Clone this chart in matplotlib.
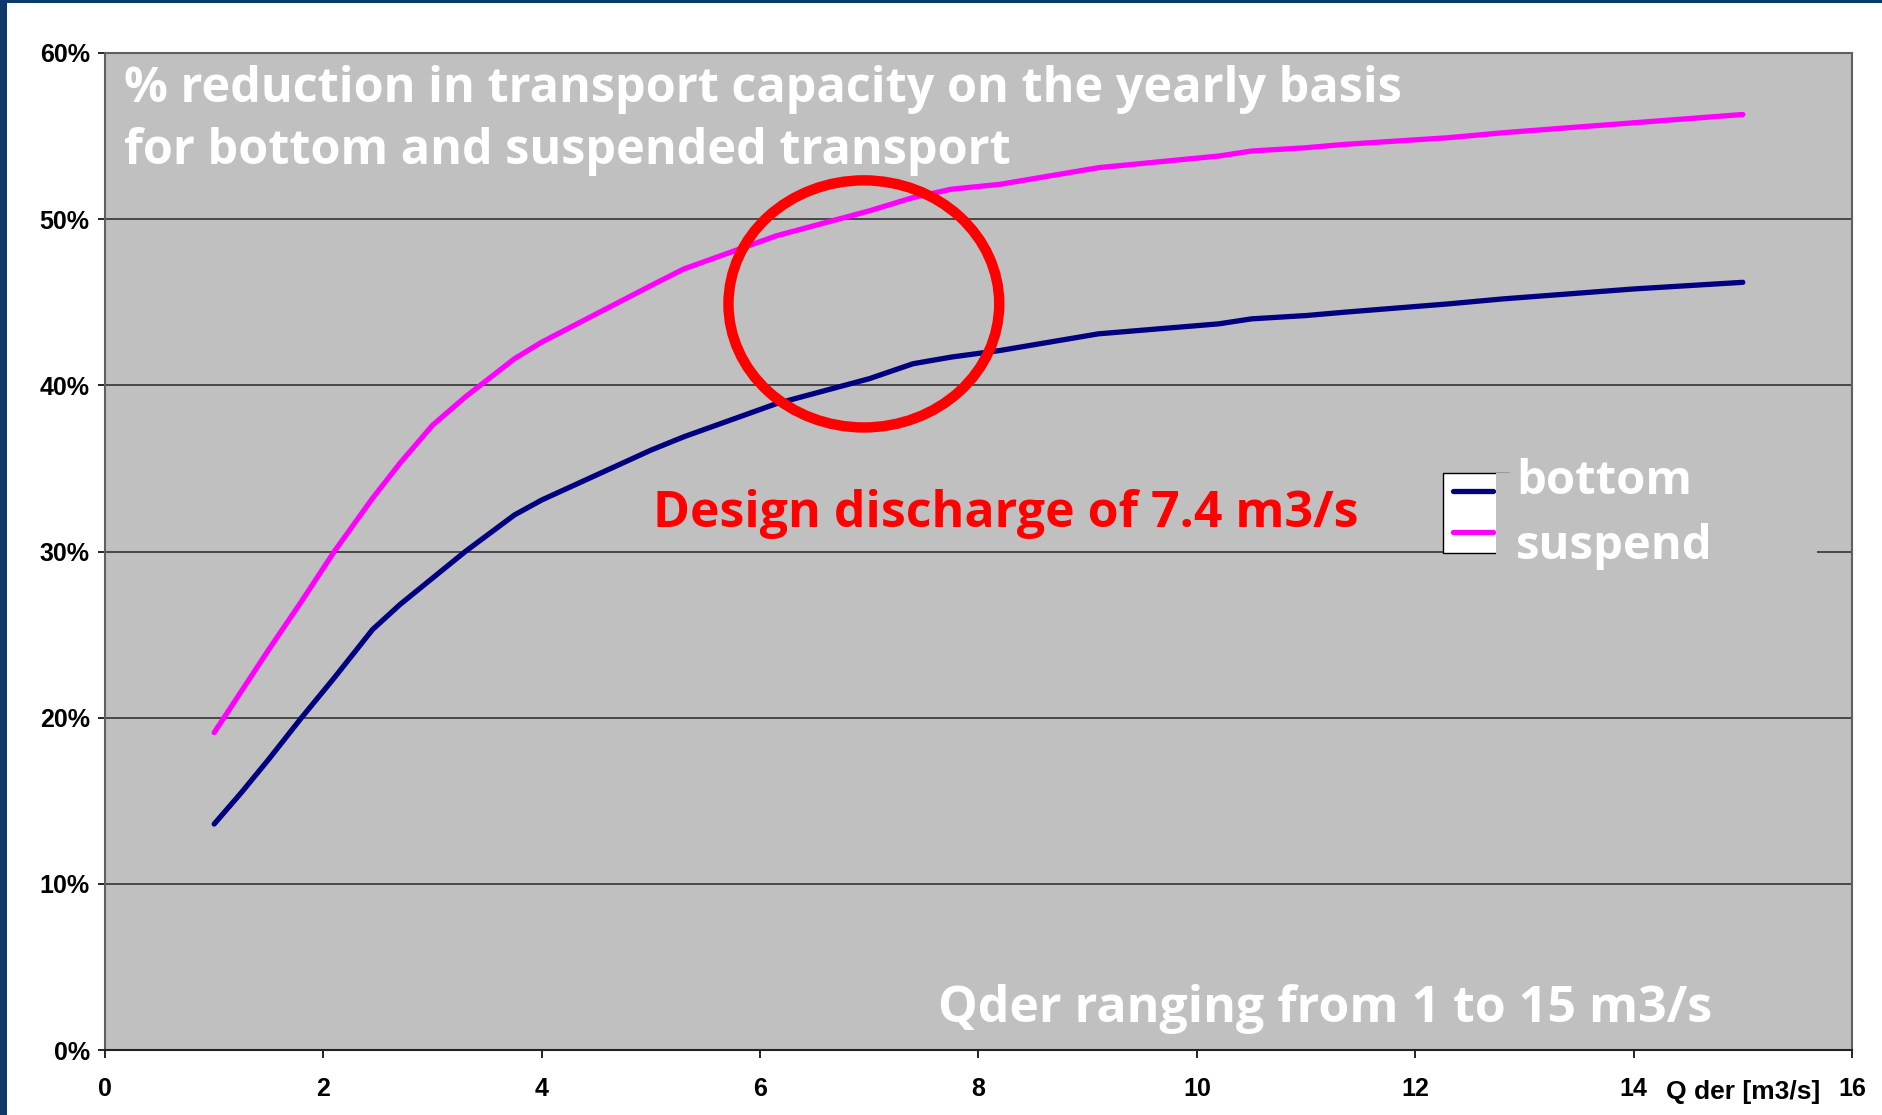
import matplotlib
matplotlib.use("Agg")
import matplotlib.pyplot as plt
from matplotlib import font_manager
from matplotlib.patches import Ellipse, Rectangle

# values (Qder in m3/s, reduction in %)
qder = [1.0, 1.25, 1.5, 1.8, 2.1, 2.45, 2.7, 3.0, 3.3, 3.75, 4.0, 4.5, 5.0, 5.3,
        6.15, 7.0, 7.4, 7.75, 8.2, 9.1, 10.2, 10.5, 11.0, 11.35, 12.3, 12.8, 14.0, 15.0]
bottom = [13.6, 15.5, 17.5, 20.0, 22.4, 25.3, 26.8, 28.4, 30.0, 32.2, 33.1, 34.6, 36.1, 36.9,
          38.9, 40.4, 41.3, 41.7, 42.1, 43.1, 43.7, 44.0, 44.2, 44.4, 44.9, 45.2, 45.8, 46.2]
suspend = [19.1, 21.6, 24.1, 27.0, 30.0, 33.2, 35.3, 37.6, 39.3, 41.6, 42.6, 44.3, 46.0, 47.0,
           49.0, 50.5, 51.3, 51.8, 52.1, 53.1, 53.8, 54.1, 54.3, 54.5, 54.9, 55.2, 55.8, 56.3]
series_names = ["bottom", "suspend"]
series_colors = ["#000080", "#FF00FF"]

x_ticks = [0, 2, 4, 6, 8, 10, 12, 14, 16]
y_ticks = [0, 10, 20, 30, 40, 50, 60]
y_labels = [f"{v}%" for v in y_ticks]

title_text = ("% reduction in transport capacity on the yearly basis\n"
              "for bottom and suspended transport")
design_text = "Design discharge of 7.4 m3/s"
range_text = "Qder ranging from 1 to 15 m3/s"
x_name = "Q der [m3/s]"


def bold_family(candidates):
    # first family that really has a bold face installed
    for fam in candidates:
        for f in font_manager.fontManager.ttflist:
            if f.name == fam and f.weight in ("bold", 700, "heavy", 800, "semibold", 600):
                return fam
    return "DejaVu Sans"


big_font = bold_family(["Noto Sans", "Open Sans", "Lato", "Roboto"])

W, H = 1883, 1115
fig = plt.figure(figsize=(W / 100, H / 100), dpi=100)
fig.patch.set_facecolor("white")

# slide border (dark blue strips left and top)
fig.patches.append(Rectangle((0, 0), 7 / W, 1, transform=fig.transFigure,
                             facecolor="#0d3a6a", edgecolor="none"))
fig.patches.append(Rectangle((0, 1 - 3 / H), 1, 3 / H, transform=fig.transFigure,
                             facecolor="#0d3a6a", edgecolor="none"))

ax = fig.add_axes([105 / W, 65 / H, 1747 / W, 997 / H])
ax.set_facecolor("#C0C0C0")
ax.set_xlim(0, 16)
ax.set_ylim(0, 60)
ax.set_axisbelow(True)
ax.yaxis.grid(True, color="#333333", lw=1.2)

for side in ["left", "top", "right"]:
    ax.spines[side].set_color("#606060")
    ax.spines[side].set_linewidth(1.5)
ax.spines["bottom"].set_color("#222222")
ax.spines["bottom"].set_linewidth(1.5)

ax.set_xticks(x_ticks)
ax.set_xticklabels([str(v) for v in x_ticks])
ax.set_yticks(y_ticks)
ax.set_yticklabels(y_labels)
ax.tick_params(axis="x", direction="out", length=5.8, width=1.2, pad=14, labelsize=18)
ax.tick_params(axis="y", direction="out", length=5, width=1.2, pad=6, labelsize=18)
for lab in ax.get_xticklabels() + ax.get_yticklabels():
    lab.set_fontfamily("Liberation Sans")
    lab.set_fontweight("bold")

lines = []
for vals, name, col in zip([bottom, suspend], series_names, series_colors):
    ln, = ax.plot(qder, vals, color=col, lw=3.8, solid_capstyle="round",
                  solid_joinstyle="round", label=name, zorder=3)
    lines.append(ln)

# legend: small white key box, big white labels on a grey band
leg_keys = ax.legend(lines, [" ", " "], loc="upper left", bbox_to_anchor=(0.7659, 0.5787),
                     borderaxespad=0, fontsize=14.4, handlelength=2.0, handletextpad=0,
                     labelspacing=1.08, borderpad=0.5, frameon=True, fancybox=False,
                     facecolor="white", edgecolor="black", framealpha=1)
leg_keys.get_frame().set_linewidth(1.0)
ax.add_artist(leg_keys)

ax.add_patch(Rectangle((0.7962, 0.4945), 0.980 - 0.7962, 0.5787 - 0.4945,
                       transform=ax.transAxes, facecolor="#C0C0C0", edgecolor="none",
                       zorder=5.5))

leg_text = ax.legend(lines, series_names, loc="upper left", bbox_to_anchor=(0.8077, 0.594),
                     borderaxespad=0, borderpad=0, handlelength=0, handletextpad=0,
                     labelspacing=0.38, frameon=False, labelcolor="white",
                     prop=dict(family=big_font, weight="bold", size=34))
for h in leg_text.legend_handles:
    h.set_visible(False)
leg_text.set_zorder(6)

ax.text(0.0109, 0.988, title_text, transform=ax.transAxes, ha="left", va="top",
        color="white", fontsize=35, fontweight="bold", family=big_font, linespacing=1.36)
ax.text(8.25, 31.5, design_text, ha="center", va="baseline", color="#FF0000",
        fontsize=36, fontweight="bold", family=big_font)
ax.text(11.17, 1.7, range_text, ha="center", va="baseline", color="white",
        fontsize=36, fontweight="bold", family=big_font)

ax.add_patch(Ellipse((6.95, 44.9), 2.48, 14.87, fill=False, edgecolor="#FF0000",
                     lw=7.5, zorder=4))

ax.annotate(x_name, xy=(15, 0), xytext=(0, -35), textcoords="offset points",
            ha="center", va="baseline", fontsize=19, fontweight="bold",
            family="Liberation Sans", annotation_clip=False)

fig.savefig("out.png", dpi=100)
